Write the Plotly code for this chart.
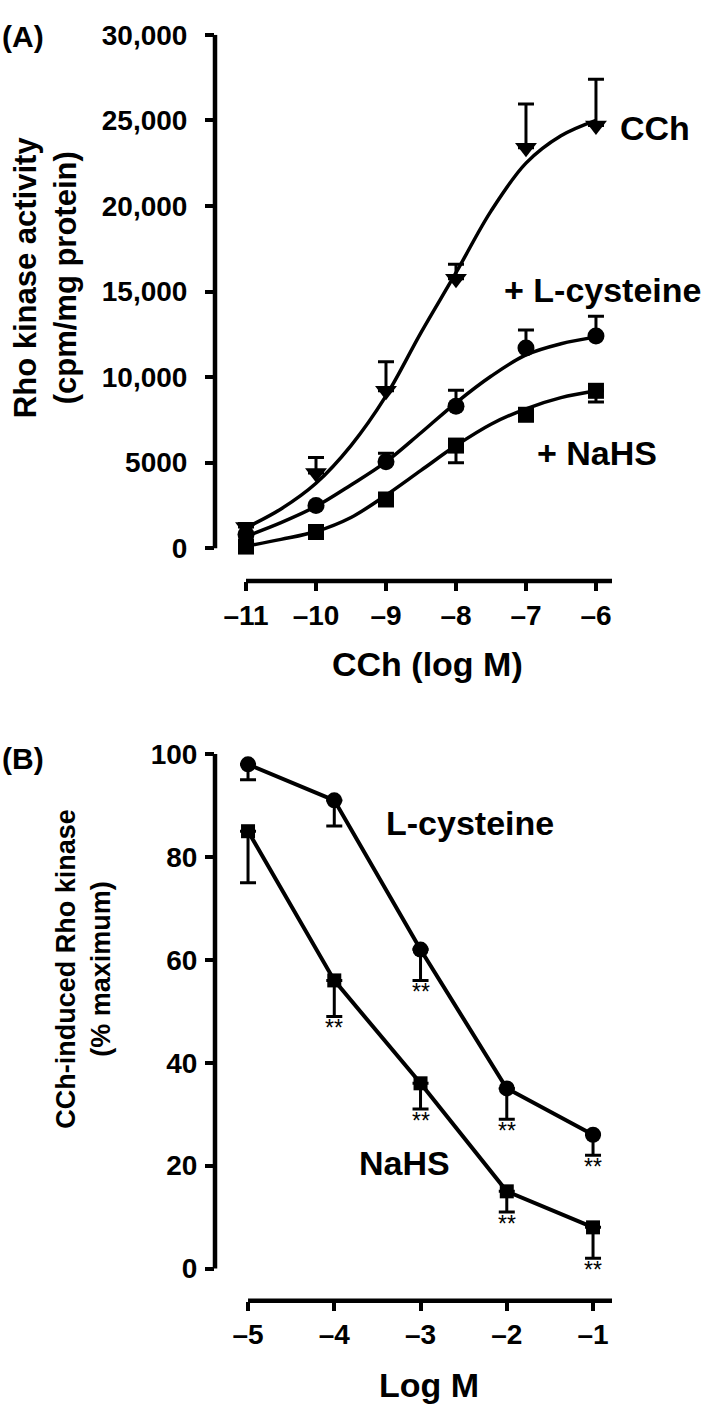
import plotly.graph_objects as go

W, H = 709, 1409
FONT = "Liberation Sans, Arial, sans-serif"

# ---- panel A: Rho kinase activity vs CCh ----
log_cch = [-11, -10, -9, -8, -7, -6]
cch_mean = [1250, 4400, 9200, 15750, 23400, 24700]
cch_err = [200, 900, 1700, 850, 2550, 2700]
lcys_mean = [800, 2500, 5050, 8300, 11700, 12400]
lcys_err = [0, 0, 500, 930, 1050, 1150]
nahs_mean = [100, 950, 2850, 6000, 7800, 9200]
nahs_err_low = [0, 0, 0, 1000, 0, 650]

# fitted curves at half-log steps
fit_x = [-11, -10.5, -10, -9.5, -9, -8.5, -8, -7.5, -7, -6.5, -6]
fit_cch = [1200, 2300, 3800, 6000, 8900, 12600, 16100, 19700, 22500, 24100, 25000]
fit_lcys = [700, 1500, 2450, 3700, 5050, 6750, 8500, 10050, 11300, 11950, 12350]
fit_nahs = [120, 520, 980, 1800, 3100, 4550, 6000, 7250, 8150, 8800, 9200]

a_yticks = [0, 5000, 10000, 15000, 20000, 25000, 30000]
a_ytext = ["0", "5000", "10,000", "15,000", "20,000", "25,000", "30,000"]

# ---- panel B: % maximum vs inhibitor concentration ----
log_m = [-5, -4, -3, -2, -1]
lcys_pct = [98, 91, 62, 35, 26]
lcys_pct_err = [3, 5, 6, 6, 4]
lcys_sig = ["", "", "**", "**", "**"]
nahs_pct = [85, 56, 36, 15, 8]
nahs_pct_err = [10, 7, 5, 4, 6]
nahs_sig = ["", "**", "**", "**", "**"]

b_yticks = [0, 20, 40, 60, 80, 100]


def px_x(p):
    return p / W


def px_y(p):
    return 1 - p / H


def dash(v):
    # GraphPad style negative labels
    return "–" + str(abs(v)) if v < 0 else str(v)


def err(plus=None, minus=None, n=6):
    return dict(
        type="data",
        symmetric=False,
        array=plus if plus is not None else [0] * n,
        arrayminus=minus if minus is not None else [0] * n,
        color="black",
        thickness=3,
        width=8,
    )


fig = go.Figure()

# curves first so the symbols sit on top
for ys in (fit_cch, fit_lcys, fit_nahs):
    fig.add_trace(go.Scatter(
        x=fit_x, y=ys, mode="lines", line=dict(color="black", width=3.5, shape="spline"),
        xaxis="x", yaxis="y", cliponaxis=False,
    ))

fig.add_trace(go.Scatter(
    x=log_cch, y=cch_mean, mode="markers", error_y=err(plus=cch_err),
    marker=dict(symbol="triangle-down", size=19, color="black"),
    xaxis="x", yaxis="y", cliponaxis=False,
))
fig.add_trace(go.Scatter(
    x=log_cch, y=lcys_mean, mode="markers", error_y=err(plus=lcys_err),
    marker=dict(symbol="circle", size=17, color="black"),
    xaxis="x", yaxis="y", cliponaxis=False,
))
fig.add_trace(go.Scatter(
    x=log_cch, y=nahs_mean, mode="markers", error_y=err(minus=nahs_err_low),
    marker=dict(symbol="square", size=16, color="black"),
    xaxis="x", yaxis="y", cliponaxis=False,
))

# panel B lines with downward error bars
fig.add_trace(go.Scatter(
    x=log_m, y=lcys_pct, mode="lines+markers",
    line=dict(color="black", width=4),
    marker=dict(symbol="circle", size=16, color="black"),
    error_y=err(minus=lcys_pct_err, n=5),
    xaxis="x2", yaxis="y2", cliponaxis=False,
))
fig.add_trace(go.Scatter(
    x=log_m, y=nahs_pct, mode="lines+markers",
    line=dict(color="black", width=4),
    marker=dict(symbol="square", size=14, color="black"),
    error_y=err(minus=nahs_pct_err, n=5),
    xaxis="x2", yaxis="y2", cliponaxis=False,
))

tickfont = dict(family=FONT, size=28, color="black", weight="bold")
axis_common = dict(
    showline=False, showgrid=False, zeroline=False, ticks="outside",
    ticklen=9, tickwidth=4, tickcolor="black", tickfont=tickfont, tickmode="array",
    fixedrange=True,
)

fig.update_layout(
    width=W, height=H, autosize=False,
    margin=dict(l=0, r=0, t=0, b=0),
    paper_bgcolor="white", plot_bgcolor="white",
    showlegend=False,
    xaxis=dict(axis_common, domain=[px_x(215), px_x(612)], range=[-11.443, -5.771],
               tickvals=log_cch, ticktext=[dash(v) for v in log_cch], anchor="y"),
    yaxis=dict(axis_common, domain=[px_y(572), px_y(20)], range=[-1907, 30000],
               tickvals=a_yticks, ticktext=a_ytext, anchor="x", ticklabelstandoff=12),
    xaxis2=dict(axis_common, domain=[px_x(215), px_x(612)], range=[-5.383, -0.780],
                tickvals=log_m, ticktext=[dash(v) for v in log_m], anchor="y2"),
    yaxis2=dict(axis_common, domain=[px_y(1299.5), px_y(747)], range=[-6.25, 100],
                tickvals=b_yticks, ticktext=[str(v) for v in b_yticks], anchor="x2",
                ticklabelstandoff=2),
)

# offset axis lines (GraphPad style)
line = dict(color="black", width=4.5)
fig.add_shape(type="line", xref="paper", yref="y", x0=px_x(215), x1=px_x(215), y0=0, y1=30000, line=line)
fig.add_shape(type="line", xref="x", yref="paper", x0=-11, x1=-5.771, y0=px_y(572), y1=px_y(572), line=line)
fig.add_shape(type="line", xref="paper", yref="y2", x0=px_x(215), x1=px_x(215), y0=0, y1=100, line=line)
fig.add_shape(type="line", xref="x2", yref="paper", x0=-5, x1=-0.780, y0=px_y(1299.5), y1=px_y(1299.5), line=line)


def label(text, x, y, size, xref="paper", yref="paper", angle=0, bold=True, yshift=0):
    fig.add_annotation(
        text=text, x=x, y=y, xref=xref, yref=yref, showarrow=False,
        xanchor="center", yanchor="middle", textangle=angle, yshift=yshift,
        font=dict(family=FONT, size=size, color="black", weight="bold" if bold else "normal"),
    )


label("(A)", px_x(23), px_y(22), 30)
label("(B)", px_x(23), px_y(752), 30)

label("Rho kinase activity<br>(cpm/mg protein)", px_x(45), px_y(265), 31, angle=-90)
label("CCh (log M)", px_x(428), px_y(656), 34)
label("CCh-induced Rho kinase<br>(% maximum)", px_x(84), px_y(964), 27, angle=-90)
label("Log M", px_x(429), px_y(1385), 34)

label("CCh", px_x(655), px_y(114), 34)
label("+ L-cysteine", -5.9, 15086, 34, xref="x", yref="y")
label("+ NaHS", -5.986, 5549, 34, xref="x", yref="y")
label("L-cysteine", -2.426, 86.5, 34, xref="x2", yref="y2")
label("NaHS", -3.19, 20.6, 34, xref="x2", yref="y2")

# significance stars under the error bars
for ys, es, sig in ((lcys_pct, lcys_pct_err, lcys_sig), (nahs_pct, nahs_pct_err, nahs_sig)):
    for xv, m, e, s in zip(log_m, ys, es, sig):
        if s:
            label(s, xv, m - e, 23, xref="x2", yref="y2", bold=False, yshift=-12)

# pin the figure to the window corner so nothing on the page pushes it down
pin = (
    "document.body.style.margin='0';"
    "var gd=document.getElementById('{plot_id}');"
    "gd.style.position='absolute';gd.style.left='0';gd.style.top='0';"
)
fig.write_html("out.html", config={"displayModeBar": False}, post_script=pin)
